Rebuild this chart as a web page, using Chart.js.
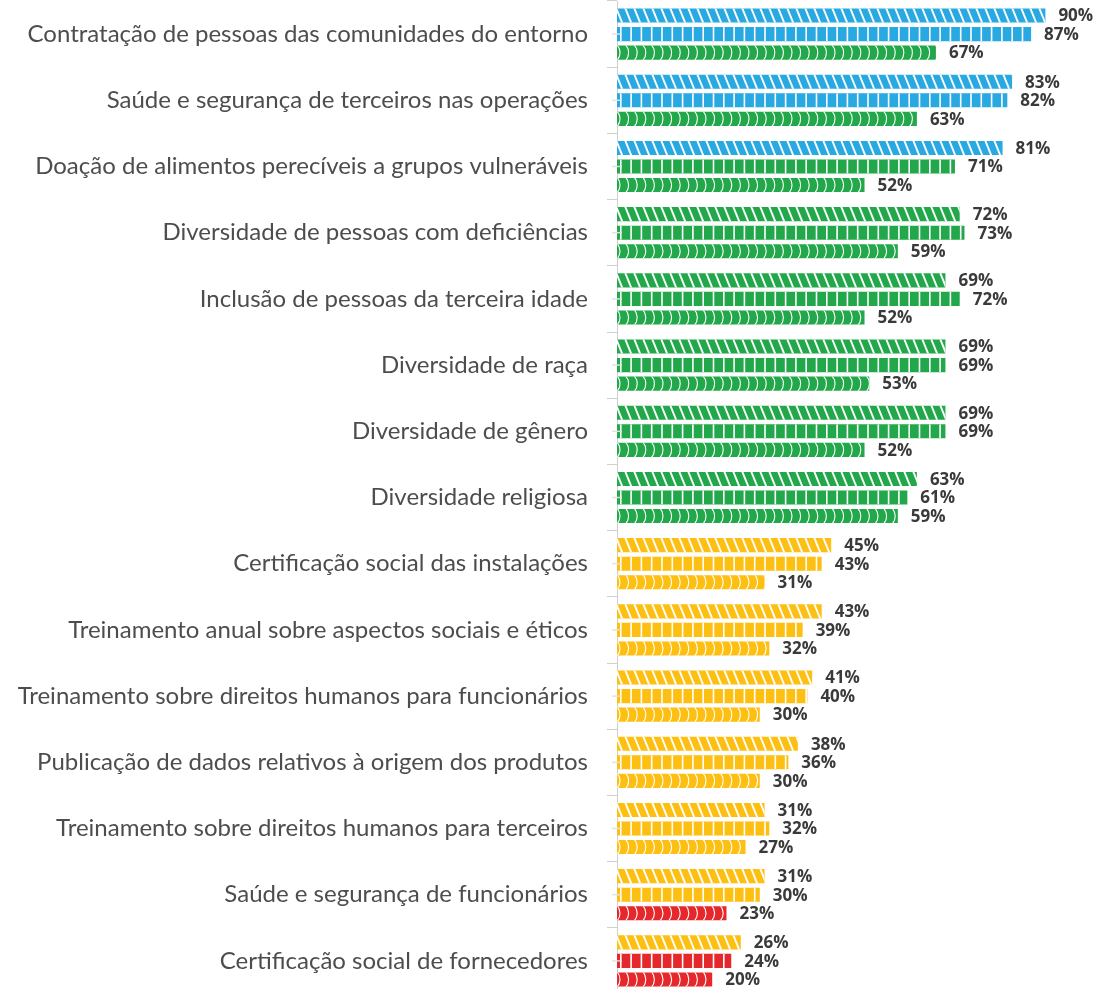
<!DOCTYPE html>
<html>
<head>
<meta charset="utf-8">
<script src="https://cdn.jsdelivr.net/npm/chart.js@4.4.1/dist/chart.umd.min.js"></script>
<style>
	html, body { margin: 0; padding: 0; background: #fff; overflow: hidden; }
	#wrap { position: absolute; left: 0; top: 0; width: 1097px; height: 996px; }
</style>
</head>
<body>
<div id="wrap"><canvas id="myChart"></canvas></div>
<script>
const categories = [
	'Contratação de pessoas das comunidades do entorno',
	'Saúde e segurança de terceiros nas operações',
	'Doação de alimentos perecíveis a grupos vulneráveis',
	'Diversidade de pessoas com deficiências',
	'Inclusão de pessoas da terceira idade',
	'Diversidade de raça',
	'Diversidade de gênero',
	'Diversidade religiosa',
	'Certificação social das instalações',
	'Treinamento anual sobre aspectos sociais e éticos',
	'Treinamento sobre direitos humanos para funcionários',
	'Publicação de dados relativos à origem dos produtos',
	'Treinamento sobre direitos humanos para terceiros',
	'Saúde e segurança de funcionários',
	'Certificação social de fornecedores'
];

const seriesA = [90, 83, 81, 72, 69, 69, 69, 63, 45, 43, 41, 38, 31, 31, 26];
const seriesB = [87, 82, 71, 73, 72, 69, 69, 61, 43, 39, 40, 36, 32, 30, 24];
const seriesC = [67, 63, 52, 59, 52, 53, 52, 59, 31, 32, 30, 30, 27, 23, 20];

// colour depends on the value band
const colorFor = (v) => {
	if (v >= 80) return '#29a9e1';
	if (v >= 50) return '#22a84b';
	if (v >= 25) return '#fdbf12';
	return '#e5282b';
};

const barColor = (ctx) => colorFor(ctx.raw);

// white decoration drawn over each bar: stripes, gaps, arcs
const barDeco = {
	id: 'barDeco',
	afterDatasetsDraw(chart) {
		const c = chart.ctx;
		const yScale = chart.scales.y;
		const left = chart.chartArea.left;
		chart.data.datasets.forEach((ds, di) => {
			const meta = chart.getDatasetMeta(di);
			meta.data.forEach((bar) => {
				const { x, y, base, height } = bar.getProps(['x', 'y', 'base', 'height'], true);
				const top = y - height / 2;
				const bottom = y + height / 2;
				c.save();
				c.beginPath();
				c.rect(base, top, x - base, height);
				c.clip();
				c.strokeStyle = '#fff';
				c.fillStyle = '#fff';
				if (di === 0) {
					c.lineWidth = 1.9;
					for (let xx = base - 10; xx < x + 2; xx += 9) {
						c.beginPath();
						c.moveTo(xx, top - 1);
						c.lineTo(xx + 6.5, bottom + 1);
						c.stroke();
					}
				} else if (di === 1) {
					for (let xx = base + 3; xx < x - 2; xx += 10.3) {
						c.fillRect(xx, top, 1.6, height);
					}
				} else {
					c.lineWidth = 1.1;
					const half = height / 2;
					const sag = 2.4;
					const r = (half * half + sag * sag) / (2 * sag);
					const ang = Math.asin(Math.min(1, (half + 1) / r));
					for (let xx = base + 3; xx < x + 4; xx += 8.6) {
						c.beginPath();
						c.arc(xx - r, y, r, -ang, ang);
						c.stroke();
					}
				}
				c.restore();
			});
		});

		// light centre ticks on the axis
		c.save();
		c.strokeStyle = 'rgba(225,225,225,0.95)';
		c.lineWidth = 1.5;
		categories.forEach((_, i) => {
			const py = yScale.getPixelForValue(i);
			c.beginPath();
			c.moveTo(left - 5, py);
			c.lineTo(left + 5, py);
			c.stroke();
		});
		c.restore();

		// value labels
		c.save();
		c.font = '700 17px "Open Sans"';
		c.fillStyle = '#3a3a3a';
		c.textBaseline = 'middle';
		c.textAlign = 'left';
		chart.data.datasets.forEach((ds, di) => {
			const meta = chart.getDatasetMeta(di);
			meta.data.forEach((bar, i) => {
				c.fillText(ds.data[i] + '%', bar.x + 13, bar.y + 1);
			});
		});
		c.restore();
	}
};

const ctx = document.getElementById('myChart');

new Chart(ctx, {
	type: 'bar',
	data: {
		labels: categories,
		datasets: [
			{ label: 'A', data: seriesA, backgroundColor: barColor },
			{ label: 'B', data: seriesB, backgroundColor: barColor },
			{ label: 'C', data: seriesC, backgroundColor: barColor }
		]
	},
	options: {
		indexAxis: 'y',
		animation: false,
		responsive: true,
		maintainAspectRatio: false,
		categoryPercentage: 0.84,
		barPercentage: 0.76,
		layout: { padding: { left: 0, right: 4, top: 1, bottom: 2 } },
		plugins: {
			legend: { display: false },
			tooltip: { enabled: false }
		},
		scales: {
			x: {
				display: false,
				min: 0,
				max: 100
			},
			y: {
				// fixed axis width, no label padding at the ends
				afterFit: (scale) => {
					scale.width = 617;
					scale.paddingTop = 0;
					scale.paddingBottom = 0;
				},
				border: { display: true, color: '#cfcfcf', width: 1 },
				grid: {
					offset: true,
					drawOnChartArea: false,
					drawTicks: true,
					tickLength: 10,
					color: '#cfcfcf'
				},
				ticks: {
					padding: 19,
					color: '#4d4d4d',
					font: { family: 'Lato', size: 24 }
				}
			}
		}
	},
	plugins: [barDeco]
});
</script>
</body>
</html>
